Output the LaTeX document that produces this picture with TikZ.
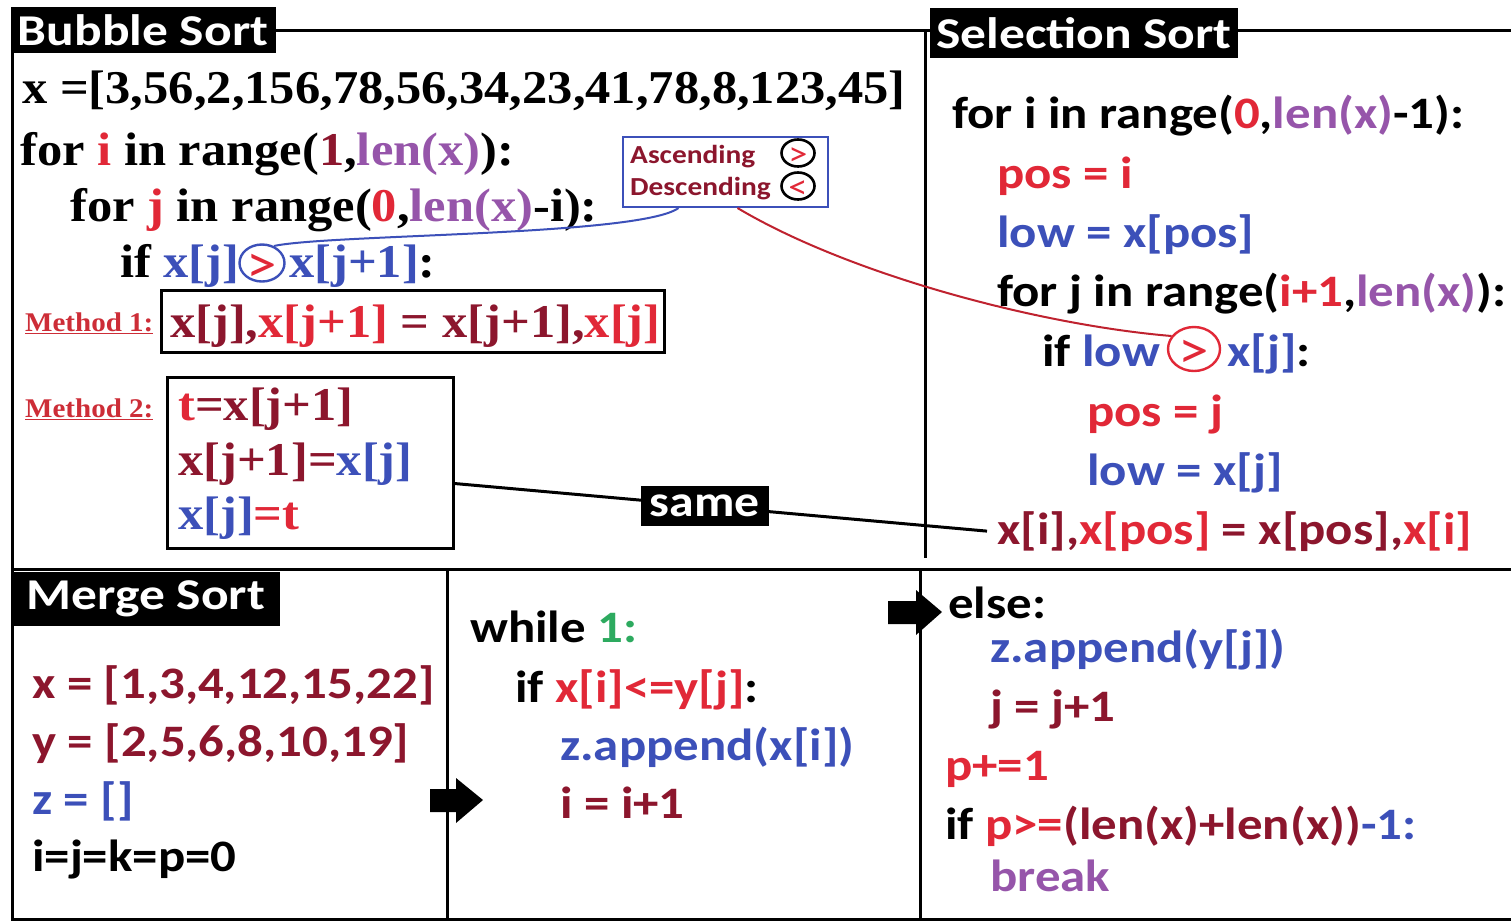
\documentclass[tikz,border=0pt]{standalone}
\usepackage{fontspec}
\setmainfont{Liberation Serif}[FakeStretch=1.075]
\newfontfamily\calfont{Carlito}[FakeStretch=1.13]
\newfontfamily\titlefont{Carlito}[FakeStretch=1.17]
\usetikzlibrary{shapes.geometric}

\definecolor{dred}{RGB}{140,22,45}
\definecolor{rd}{RGB}{225,40,55}
\definecolor{pur}{RGB}{150,85,170}
\definecolor{blu}{RGB}{60,80,185}
\definecolor{grn}{RGB}{45,170,95}
\definecolor{mlab}{RGB}{205,45,55}

\tikzset{
  frame/.style={line width=3pt, black},
  serifline/.style={anchor=base west, inner sep=0pt, font=\fontsize{47}{52}\selectfont\bfseries},
  sansline/.style={anchor=base west, inner sep=0pt, font=\calfont\fontsize{45}{50}\selectfont\bfseries},
  titlebar/.style={fill=black, text=white, inner sep=0pt, font=\titlefont\fontsize{44}{48}\selectfont\bfseries},
  codebox/.style={draw=black, line width=3pt, inner sep=0pt},
  methodlabel/.style={anchor=base west, inner sep=0pt, text=mlab, font=\fontsize{27}{30}\selectfont\bfseries},
  keybox/.style={draw=blu, line width=2pt, inner sep=0pt},
  keytext/.style={anchor=base west, inner sep=0pt, text=dred, font=\calfont\fontsize{26}{28}\selectfont\bfseries},
  keyring/.style={ellipse, draw=black, line width=2.6pt, minimum width=33pt, minimum height=27pt, inner sep=0pt},
  keysym/.style={inner sep=0pt, text=rd, font=\calfont\fontsize{34}{34}\selectfont},
  cmpring/.style={ellipse, line width=2.4pt, inner sep=0pt},
  cmpsym/.style={inner sep=0pt, text=rd, font=\calfont\fontsize{54}{54}\selectfont},
  samelabel/.style={fill=black, text=white, inner xsep=9pt, inner ysep=0pt, minimum height=40pt, font=\calfont\fontsize{44}{46}\selectfont\bfseries},
  fatarrow/.style={fill=black},
}

\begin{document}
\begin{tikzpicture}[x=1pt, y=-1pt]
\useasboundingbox (0,0) rectangle (1511,922);
\fill[white] (0,0) rectangle (1511,922);

% frame lines
\draw[frame] (12,52) -- (12,919) -- (1511,919);
\draw[frame] (275,30) -- (930,30);
\draw[frame] (1238,30) -- (1511,30);
\draw[frame] (925,30) -- (925,558);
\draw[frame] (12,569) -- (1511,569);
\draw[frame] (447,569) -- (447,919);
\draw[frame] (920,569) -- (920,919);

% section titles
\node[titlebar, minimum width=265pt, minimum height=46pt] (tbub) at (143,30) {Bubble Sort};
\node[titlebar, minimum width=308pt, minimum height=50pt] (tsel) at (1084,33) {Selection Sort};
\node[titlebar, minimum width=268pt, minimum height=54pt] (tmer) at (146,599) {Merge Sort};

% bubble sort
\node[serifline] (b1) at (22,103) {x =[3,56,2,156,78,56,34,23,41,78,8,123,45]};
\node[serifline] (b2) at (20,165) {for \textcolor{rd}{i} in range(\textcolor{dred}{1},\textcolor{pur}{len(x)}):};
\node[serifline] (b3) at (70,221) {for \textcolor{rd}{j} in range(\textcolor{rd}{0},\textcolor{pur}{len(x)}-i):};
\node[serifline] (b4) at (120,277) {if \textcolor{blu}{x[j]}};
\node[cmpring, draw=blu, minimum width=45pt, minimum height=37pt] (cmpb) at (262,263) {};
\node[cmpsym] (cmpbs) at ([yshift=-5pt]cmpb.center) {>};
\node[serifline, text=blu] (b4b) at (289,277) {x[j+1]\textcolor{black}{:}};

\node[methodlabel] (ml1) at (25,331) {\underline{Method 1:}};
\node[codebox, minimum width=503pt, minimum height=62pt] (m1) at (412.5,321) {};
\node[serifline] (m1t) at (170,337) {\textcolor{dred}{x[j],}\textcolor{rd}{x[j+1]} \textcolor{dred}{= x[j+1],}\textcolor{rd}{x[j]}};

\node[methodlabel] (ml2) at (25,417) {\underline{Method 2:}};
\node[codebox, minimum width=286pt, minimum height=171pt] (m2) at (310,462.5) {};
\node[serifline] (m2a) at (178,420) {\textcolor{rd}{t}\textcolor{dred}{=x[j+1]}};
\node[serifline] (m2b) at (178,475) {\textcolor{dred}{x[j+1]=}\textcolor{blu}{x[j]}};
\node[serifline] (m2c) at (178,529) {\textcolor{blu}{x[j]}\textcolor{rd}{=t}};

% order key
\node[keybox, minimum width=205pt, minimum height=70pt] (key) at (725.5,172) {};
\node[keytext] (kasc) at (630,163) {Ascending};
\node[keyring] (kgt) at (798,153) {};
\node[keysym] (kgts) at ([yshift=-3.5pt]kgt.center) {>};
\node[keytext] (kdesc) at (630,195) {Descending};
\node[keyring] (klt) at (798,186) {};
\node[keysym] (klts) at ([yshift=-3.5pt]klt.center) {<};

% selection sort
\node[sansline] (s1) at (952,128) {for i in range(\textcolor{rd}{0},\textcolor{pur}{len(x)}-1):};
\node[sansline, text=rd] (s2) at (997,188) {pos = i};
\node[sansline, text=blu] (s3) at (997,247) {low = x[pos]};
\node[sansline] (s4) at (997,306) {for j in range(\textcolor{rd}{i+1},\textcolor{pur}{len(x)}):};
\node[sansline] (s5) at (1042,366) {if \textcolor{blu}{low}};
\node[cmpring, draw=rd, minimum width=52pt, minimum height=44pt] (cmps) at (1194,349) {};
\node[cmpsym] (cmpss) at ([yshift=-5pt]cmps.center) {>};
\node[sansline, text=blu] (s5b) at (1227,366) {x[j]\textcolor{black}{:}};
\node[sansline, text=rd] (s6) at (1087,426) {pos = j};
\node[sansline, text=blu] (s7) at (1087,485) {low = x[j]};
\node[sansline] (s8) at (997,544) {\textcolor{dred}{x[i],}\textcolor{rd}{x[pos]} \textcolor{dred}{= x[pos],}\textcolor{rd}{x[i]}};

% merge sort
\node[sansline, text=dred] (g1) at (32,698) {x = [1,3,4,12,15,22]};
\node[sansline, text=dred] (g2) at (32,756) {y = [2,5,6,8,10,19]};
\node[sansline, text=blu] (g3) at (32,814) {z = []};
\node[sansline] (g4) at (32,871) {i=j=k=p=0};
\node[sansline] (w1) at (470,642) {while \textcolor{grn}{1:}};
\node[sansline] (w2) at (515,702) {if \textcolor{rd}{x[i]<=y[j]}:};
\node[sansline, text=blu] (w3) at (560,760) {z.append(x[i])};
\node[sansline, text=dred] (w4) at (560,818) {i = i+1};
\node[sansline] (e1) at (948,618) {else:};
\node[sansline, text=blu] (e2) at (990,662) {z.append(y[j])};
\node[sansline, text=dred] (e3) at (990,721) {j = j+1};
\node[sansline, text=rd] (e4) at (945,780) {p+=1};
\node[sansline] (e5) at (945,839) {if \textcolor{rd}{p>=}\textcolor{dred}{(len(x)+len(x))}\textcolor{blu}{-1:}};
\node[sansline, text=pur] (e6) at (990,891) {break};

% flow arrows between merge columns
\fill[fatarrow] (430,789) -- (456,789) -- (456,778) -- (483,800) -- (456,823) -- (456,812) -- (430,812) -- cycle;
\fill[fatarrow] (888,601) -- (916,601) -- (916,590) -- (942,612) -- (916,635) -- (916,624) -- (888,624) -- cycle;

% connectors
\draw[blu, line width=2pt] ([xshift=-47pt]key.south) .. controls (640,236) and (330,234) .. (cmpb.55);
\draw[rd!85!black, line width=2pt] ([xshift=12pt]key.south) .. controls (850,275) and (1040,325) .. (cmps.150);
\draw[line width=3pt] ([yshift=-21pt]m2.east) -- node[samelabel, pos=0.47] (same) {same} ([xshift=-10pt]s8.west);
\end{tikzpicture}
\end{document}
